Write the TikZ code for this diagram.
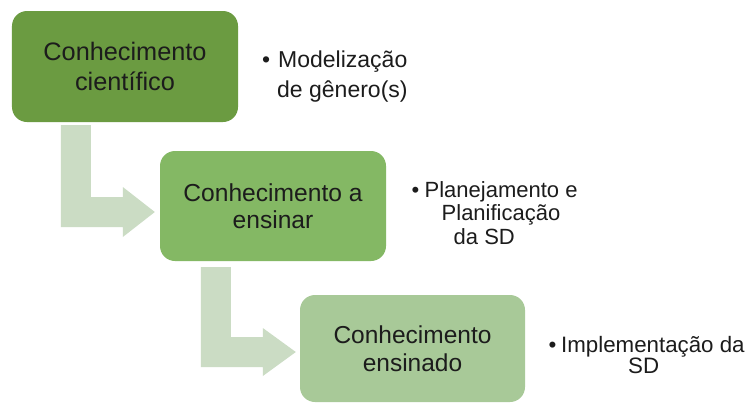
\documentclass[tikz,border=0pt]{standalone}
\usepackage{fontspec}
\setmainfont{Liberation Sans}
\usetikzlibrary{calc}
\definecolor{boxA}{HTML}{6B9B41}
\definecolor{boxB}{HTML}{84B864}
\definecolor{boxC}{HTML}{A8C998}
\definecolor{arrowc}{HTML}{CBDCC4}
\definecolor{txt}{HTML}{1C1C1C}
\begin{document}
\begin{tikzpicture}[x=1bp,y=-1bp,
  box/.style={rounded corners=15bp, inner sep=0pt, align=center, text=txt, draw=none},
  bentarrow/.style={fill=arrowc, draw=none},
  side/.style={anchor=base west, align=left, inner sep=0pt, text=txt}]
\useasboundingbox (0,0) rectangle (748,403);
\fill[white] (0,0) rectangle (748,403);

\node[box, fill=boxA, minimum width=226bp, minimum height=111bp,
      font=\fontsize{25.3bp}{30bp}\selectfont] (b1) at (125,66.5) {Conhecimento\\científico};
\node[box, fill=boxB, minimum width=226bp, minimum height=110bp,
      font=\fontsize{24.6bp}{27bp}\selectfont] (b2) at (273,206) {Conhecimento a\\ensinar};
\node[box, fill=boxC, minimum width=225bp, minimum height=107bp,
      font=\fontsize{24.5bp}{28bp}\selectfont] (b3) at (412.5,348.5) {Conhecimento\\ensinado};

% bent arrow 1
\coordinate (a1s) at ($(b1.south west)+(64,3)$);
\coordinate (a1t) at ($(b2.west)+(-5,6)$);
\coordinate (a1c) at (a1s |- a1t);
\fill[bentarrow] ($(a1s)+(-15,0)$) -- ($(a1s)+(15,0)$) -- ($(a1c)+(15,-15)$)
  -- ($(a1t)+(-32,-15)$) -- ($(a1t)+(-32,-25)$) -- (a1t) -- ($(a1t)+(-32,25)$)
  -- ($(a1t)+(-32,15)$) -- ($(a1c)+(-15,15)$) -- cycle;

% bent arrow 2
\coordinate (a2s) at ($(b2.south west)+(56,6)$);
\coordinate (a2t) at ($(b3.west)+(-4,3.5)$);
\coordinate (a2c) at (a2s |- a2t);
\fill[bentarrow] ($(a2s)+(-15,0)$) -- ($(a2s)+(15,0)$) -- ($(a2c)+(15,-15)$)
  -- ($(a2t)+(-33,-15)$) -- ($(a2t)+(-33,-24)$) -- (a2t) -- ($(a2t)+(-33,24)$)
  -- ($(a2t)+(-33,15)$) -- ($(a2c)+(-15,15)$) -- cycle;

% side texts (anchor = baseline of the last line)
\node[side, font=\fontsize{23bp}{30bp}\selectfont] (t1) at (262,97)
  {\makebox[16bp][l]{•}Modelização\\\hspace*{15bp}de gênero(s)};
\node[side, font=\fontsize{22bp}{23.7bp}\selectfont] (t2) at (411.5,244.4)
  {\makebox[13bp][l]{•}Planejamento e\\\hspace*{30bp}Planificação\\\hspace*{42bp}da SD};
\node[side, font=\fontsize{22.3bp}{21.6bp}\selectfont] (t3) at (548.5,373.6)
  {\makebox[12.5bp][l]{•}Implementação da\\\hspace*{79.5bp}SD};
\end{tikzpicture}
\end{document}
